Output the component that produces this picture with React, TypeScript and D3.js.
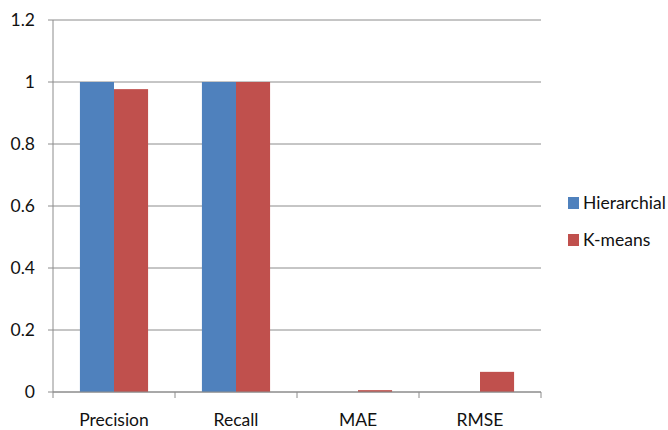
import * as d3 from 'd3';

const categories = ['Precision', 'Recall', 'MAE', 'RMSE'];
const seriesNames = ['Hierarchial', 'K-means'];
const hierarchial = [1, 1, 0, 0];
const kmeans = [0.977, 1, 0.006, 0.065];
const yTicks = [0, 0.2, 0.4, 0.6, 0.8, 1, 1.2];
const colors = ['#4F81BD', '#C0504D'];

const width = 668;
const height = 430;
const margin = { top: 20, right: 127, bottom: 38, left: 53 };
const font = 'Lato, "Open Sans", sans-serif';

export default function App() {
	const plotW = width - margin.left - margin.right;
	const plotH = height - margin.top - margin.bottom;

	const x = d3.scaleBand<string>().domain(categories).range([0, plotW]);
	const inner = d3
		.scaleBand<string>()
		.domain(seriesNames)
		.range([0, x.bandwidth()])
		.paddingOuter(0.79)
		.paddingInner(0);
	const y = d3.scaleLinear().domain([0, 1.2]).range([plotH, 0]);

	const values = [hierarchial, kmeans];

	return (
		<svg
			width={width}
			height={height}
			style={{ position: 'absolute', left: 0, top: 0, background: '#fff' }}
		>
			<g transform={`translate(${margin.left},${margin.top})`} fontFamily={font}>
				{/* gridlines + y ticks */}
				{yTicks.map((t) => (
					<g key={t} transform={`translate(0,${y(t)})`}>
						<line x1={-5} x2={plotW} stroke="#8c8c8c" strokeWidth={1} />
						<text x={-18} dy="0.35em" textAnchor="end" fontSize={17.5} fill="#111">
							{t}
						</text>
					</g>
				))}

				{/* bars */}
				{categories.map((c, i) => (
					<g key={c} transform={`translate(${x(c)},0)`}>
						{seriesNames.map((s, j) => {
							const v = values[j][i];
							if (v <= 0) return null;
							return (
								<rect
									key={s}
									x={inner(s)}
									y={y(v)}
									width={inner.bandwidth()}
									height={plotH - y(v)}
									fill={colors[j]}
								/>
							);
						})}
					</g>
				))}

				{/* y axis line */}
				<line x1={0} x2={0} y1={0} y2={plotH} stroke="#8c8c8c" strokeWidth={1} />

				{/* x axis */}
				<line x1={0} x2={plotW} y1={plotH} y2={plotH} stroke="#8c8c8c" strokeWidth={1} />
				{[...categories.map((c) => x(c) as number), plotW].map((px, i) => (
					<line key={i} x1={px} x2={px} y1={plotH} y2={plotH + 6} stroke="#8c8c8c" />
				))}
				{categories.map((c) => (
					<text
						key={c}
						x={(x(c) as number) + x.bandwidth() / 2}
						y={plotH + 34}
						textAnchor="middle"
						fontSize={17.5}
						fill="#111"
					>
						{c}
					</text>
				))}
			</g>

			{/* legend */}
			<g fontFamily={font}>
				{seriesNames.map((s, j) => (
					<g key={s} transform={`translate(568,${197 + j * 37})`}>
						<rect width={11} height={12} fill={colors[j]} />
						<text x={15} y={12} fontSize={17.5} fill="#111">
							{s}
						</text>
					</g>
				))}
			</g>
		</svg>
	);
}
